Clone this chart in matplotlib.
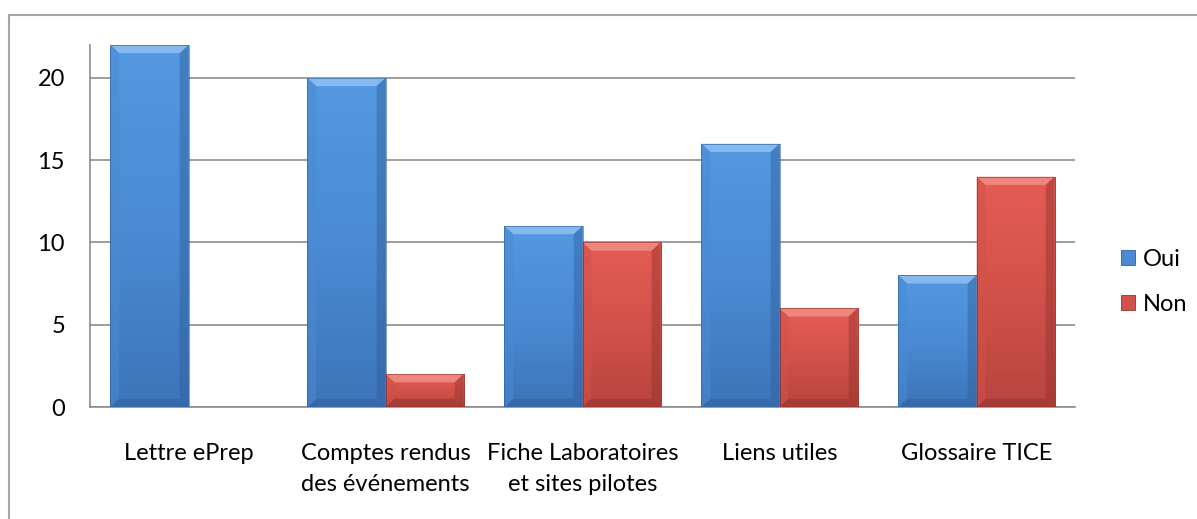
import numpy as np
import matplotlib
matplotlib.use('Agg')
import matplotlib.pyplot as plt
from matplotlib.patches import Polygon, Rectangle, Patch
from matplotlib.colors import LinearSegmentedColormap

categories = ['Lettre ePrep', 'Comptes rendus\ndes événements',
              'Fiche Laboratoires\net sites pilotes', 'Liens utiles', 'Glossaire TICE']
oui = [22, 20, 11, 16, 8]
non = [0, 2, 10, 6, 14]
series_names = ['Oui', 'Non']
yticks = [0, 5, 10, 15, 20]

plt.rcParams['font.family'] = ['Lato', 'DejaVu Sans']

W, H = 1197, 519
fig = plt.figure(figsize=(W / 100, H / 100), dpi=100)

# cadre gris du graphique (coupé à droite et en bas comme l'original)
fig.patches.append(Rectangle((9 / W, -0.05), 1.1, 1 - 15 / H + 0.05,
                             transform=fig.transFigure, fill=False,
                             edgecolor='#a6a6a6', linewidth=1.5))

ax = fig.add_axes([90 / W, (H - 407) / H, 985 / W, (407 - 45) / H])

x = np.arange(len(categories))
bw = 0.396
palettes = {
    'Oui': ('#5499e0', '#4a8bd3', '#3d74b8', '#8ec0f2', '#2f5f9c'),
    'Non': ('#e45d55', '#d1524a', '#b8453e', '#f28e86', '#93332d'),
}


def fancy_bar(rect, pal):
    x0, y0 = rect.get_x(), rect.get_y()
    w, h = rect.get_width(), rect.get_height()
    if h <= 0:
        return
    top_c, mid_c, bot_c, light, dark = pal
    cmap = LinearSegmentedColormap.from_list('g', [bot_c, mid_c, top_c])
    grad = np.linspace(0, 1, 256).reshape(-1, 1)
    im = ax.imshow(grad, cmap=cmap, origin='lower', aspect='auto',
                   extent=(x0, x0 + w, y0, y0 + h), zorder=3)
    im.set_clip_path(rect)
    dx, dy = 0.045, 0.5
    dy = min(dy, h / 3)
    t = y0 + h
    ax.add_patch(Polygon([(x0, t), (x0 + w, t), (x0 + w - dx, t - dy), (x0 + dx, t - dy)],
                         closed=True, facecolor=light, edgecolor='none', alpha=0.85, zorder=4))
    ax.add_patch(Polygon([(x0, y0), (x0, t), (x0 + dx, t - dy), (x0 + dx, y0 + dy)],
                         closed=True, facecolor=mid_c, edgecolor='none', alpha=0.5, zorder=4))
    ax.add_patch(Polygon([(x0 + w, y0), (x0 + w, t), (x0 + w - dx, t - dy), (x0 + w - dx, y0 + dy)],
                         closed=True, facecolor=dark, edgecolor='none', alpha=0.45, zorder=4))
    ax.add_patch(Polygon([(x0, y0), (x0 + w, y0), (x0 + w - dx, y0 + dy), (x0 + dx, y0 + dy)],
                         closed=True, facecolor=dark, edgecolor='none', alpha=0.5, zorder=4))
    ax.add_patch(Rectangle((x0, y0), w, h, fill=False, edgecolor=dark,
                           linewidth=0.6, alpha=0.7, zorder=5))


for vals, name, off in [(oui, 'Oui', -bw / 2), (non, 'Non', bw / 2)]:
    bars = ax.bar(x + off, vals, bw, color='none', edgecolor='none', zorder=2)
    for b in bars:
        fancy_bar(b, palettes[name])

ax.set_xlim(-0.5, len(categories) - 0.5)
ax.set_ylim(0, 22)
ax.set_yticks(yticks)
ax.set_xticks(x)
ax.set_xticklabels(categories, fontsize=17, linespacing=1.6, va='top')
ax.tick_params(axis='y', labelsize=17, length=0, pad=18)
ax.tick_params(axis='x', length=0, pad=26)
ax.grid(axis='y', color='#8c8c8c', linewidth=1.2, zorder=1)
ax.set_axisbelow(True)
for s in ['top', 'right']:
    ax.spines[s].set_visible(False)
for s in ['left', 'bottom']:
    ax.spines[s].set_color('#8c8c8c')
    ax.spines[s].set_linewidth(1.2)

handles = [Patch(facecolor=palettes[n][1], edgecolor=palettes[n][4], linewidth=0.6)
           for n in series_names]
fig.legend(handles, series_names, loc='center left', bbox_to_anchor=(1100 / W, 1 - 282 / H),
           frameon=False, fontsize=17, handlelength=0.6, handleheight=0.6,
           handletextpad=0.3, labelspacing=1.0)

fig.savefig('out.png', dpi=100)
